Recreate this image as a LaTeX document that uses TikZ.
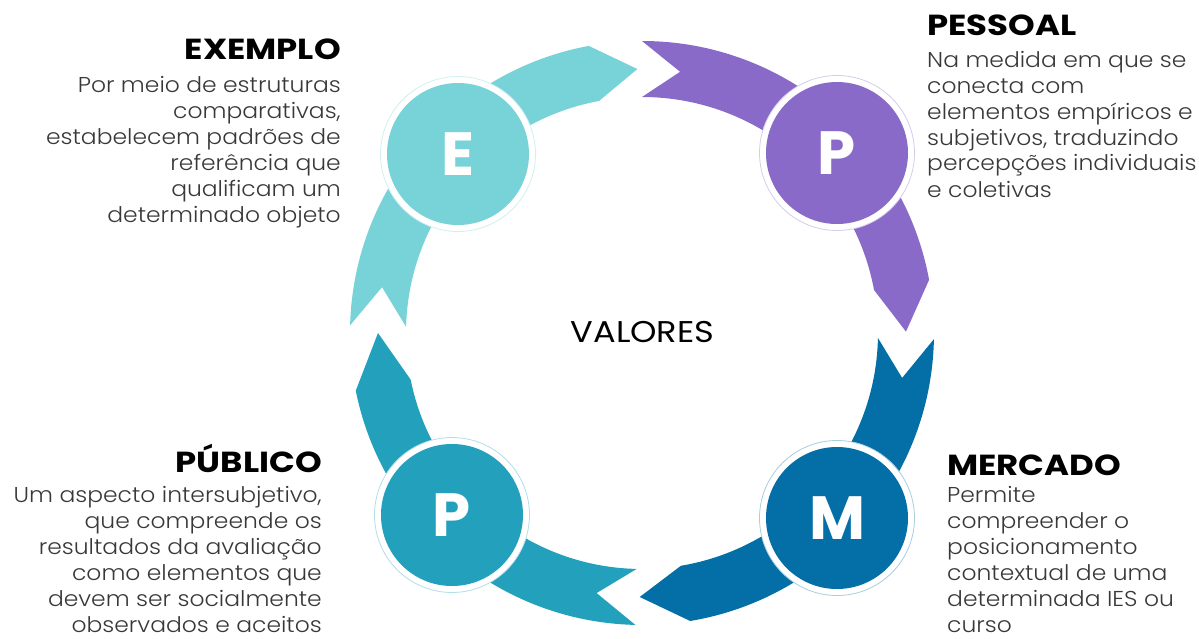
\documentclass[tikz,border=0pt]{standalone}
\usepackage{fontspec}
\setmainfont{Poppins}
\newfontfamily\lightfont{Poppins Light}[FakeStretch=1.09]
\newfontfamily\titlefont{Poppins}[FakeStretch=1.17]
\newfontfamily\valfont{Poppins}[FakeStretch=1.12]
\definecolor{cE}{HTML}{77D3D7}
\definecolor{cP}{HTML}{8A6AC8}
\definecolor{cM}{HTML}{046FA6}
\definecolor{cB}{HTML}{23A0BC}
\definecolor{bodygray}{HTML}{383838}
\newcommand\chevarc[5]{%
  \fill[#1] (#2:292) arc[start angle=#2, end angle=#4, radius=292]
    -- (#5:264) -- (#4:236) arc[start angle=#4, end angle=#2, radius=236]
    -- (#3:264) -- cycle;}
\begin{document}
\begin{tikzpicture}[x=1pt,y=1pt,
  ttl/.style={inner sep=0, font=\titlefont\fontsize{29}{30}\selectfont\bfseries, text=black},
  bodytxt/.style={inner sep=0, font=\lightfont\fontsize{21.5}{26}\selectfont, text=bodygray},
  ringnode/.style={circle, minimum size=155, inner sep=0, fill=white, draw=#1!35, line width=0.8},
  disk/.style={circle, minimum size=142, inner sep=0, fill=#1, text=white, font=\fontsize{61}{61}\selectfont\bfseries}]
\useasboundingbox (-642,-305) rectangle (557,333);
% ring arcs
\chevarc{cE}{178.5}{170}{100.5}{91}
\chevarc{cP}{90}{81.7}{10.5}{0.3}
\chevarc{cM}{-1.2}{-9.8}{-80.5}{-90.5}
\chevarc{cB}{-91.3}{-99.9}{-168.6}{-180}
% circles
\node[ringnode=cE] (rE) at (-184,179) {};
\node[disk=cE] (E) at (rE) {E};
\node[ringnode=cP] (rP) at (195,180) {};
\node[disk=cP] (P) at (rP) {P};
\node[ringnode=cM] (rM) at (195,-185) {};
\node[disk=cM] (M) at (rM) {M};
\node[ringnode=cB] (rB) at (-190,-182) {};
\node[disk=cB] (B) at (rB) {P};
% centre
\node[inner sep=0, font=\valfont\fontsize{30}{30}\selectfont, anchor=base] (val) at (0.5,-9) {VALORES};
% texts
\node[ttl, anchor=base east] (tE) at (-301,274) {EXEMPLO};
\node[bodytxt, anchor=base east] (bE) at (-301,241) {\begin{tabular}[t]{@{}r@{}}Por meio de estruturas\\ comparativas,\\ estabelecem padrões de\\ referência que\\ qualificam um\\ determinado objeto\end{tabular}};
\node[ttl, anchor=base west] (tP) at (285,298) {PESSOAL};
\node[bodytxt, anchor=base west] (bP) at (285,266) {\begin{tabular}[t]{@{}l@{}}Na medida em que se\\ conecta com\\ elementos empíricos e\\ subjetivos, traduzindo\\ percepções individuais\\ e coletivas\end{tabular}};
\node[ttl, anchor=base east] (tB) at (-320,-139) {PÚBLICO};
\node[bodytxt, anchor=base east] (bB) at (-320,-169) {\begin{tabular}[t]{@{}r@{}}Um aspecto intersubjetivo,\\ que compreende os\\ resultados da avaliação\\ como elementos que\\ devem ser socialmente\\ observados e aceitos\end{tabular}};
\node[ttl, anchor=base west] (tM) at (305,-142) {MERCADO};
\node[bodytxt, anchor=base west] (bM) at (305,-169) {\begin{tabular}[t]{@{}l@{}}Permite\\ compreender o\\ posicionamento\\ contextual de uma\\ determinada IES ou\\ curso\end{tabular}};
\end{tikzpicture}
\end{document}
